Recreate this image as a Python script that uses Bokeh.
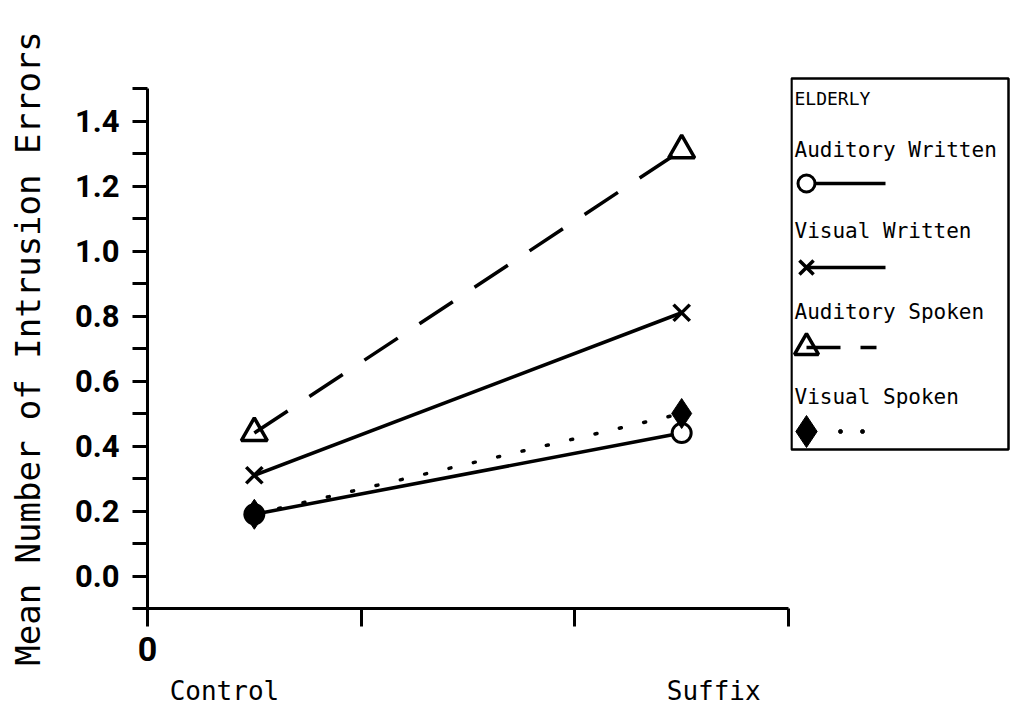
from bokeh.plotting import figure
from bokeh.layouts import row
from bokeh.models import Range1d, FixedTicker, LinearAxis
from bokeh.embed import file_html
from bokeh.resources import INLINE
from bokeh.core.properties import value

# ---- data ----
categories = ["Control", "Suffix"]
cat_x = [0.5, 2.5]
aud_written = [0.19, 0.44]
vis_written = [0.31, 0.81]
aud_spoken = [0.44, 1.31]
vis_spoken = [0.19, 0.50]
y_ticks = [0.0, 0.2, 0.4, 0.6, 0.8, 1.0, 1.2, 1.4]
y_tick_labels = ["0.0", "0.2", "0.4", "0.6", "0.8", "1.0", "1.2", "1.4"]
legend_title = "ELDERLY"
series_names = ["Auditory Written", "Visual Written", "Auditory Spoken", "Visual Spoken"]

# label placement (layout, not data)
cat_label_x = [0.36, 2.65]

NUMF = "Roboto"
MONO = "DejaVu Sans Mono"

p = figure(width=790, height=720, output_backend="svg", toolbar_location=None,
           x_range=Range1d(0, 3), y_range=Range1d(-0.1, 1.5),
           min_border_left=147, min_border_right=2, min_border_top=88, min_border_bottom=112,
           x_axis_type=None, y_axis_type=None)
p.grid.visible = False
p.outline_line_color = None
p.background_fill_color = "white"
p.border_fill_color = "white"

# y axis
yax = LinearAxis(ticker=FixedTicker(ticks=y_ticks,
                                    minor_ticks=[-0.1, 0.1, 0.3, 0.5, 0.7, 0.9, 1.1, 1.3, 1.5]),
                 major_label_overrides={t: l for t, l in zip(y_ticks, y_tick_labels)})
yax.axis_line_width = 3
yax.major_tick_line_width = 3
yax.minor_tick_line_width = 3
yax.major_tick_in = 0
yax.major_tick_out = 15
yax.minor_tick_in = 0
yax.minor_tick_out = 15
yax.major_label_text_font = NUMF
yax.major_label_text_font_style = "bold"
yax.major_label_text_color = "black"
yax.major_label_text_font_size = "31px"
yax.major_label_standoff = 13
yax.axis_label = "Mean Number of Intrusion Errors"
yax.axis_label_text_font = MONO
yax.axis_label_text_font_size = "34px"
yax.axis_label_text_font_style = "normal"
yax.axis_label_text_color = "black"
yax.axis_label_standoff = 24
p.add_layout(yax, "left")

# x axis
xax = LinearAxis(ticker=FixedTicker(ticks=[0, 1, 2, 3], minor_ticks=[]),
                 major_label_overrides={0: "0", 1: "", 2: "", 3: ""})
xax.axis_line_width = 3
xax.major_tick_line_width = 3
xax.major_tick_in = 0
xax.major_tick_out = 18
xax.major_label_text_font = NUMF
xax.major_label_text_font_style = "bold"
xax.major_label_text_color = "black"
xax.major_label_text_font_size = "34px"
xax.major_label_standoff = 10
p.add_layout(xax, "below")

# category axis
cax = LinearAxis(ticker=FixedTicker(ticks=cat_label_x, minor_ticks=[]),
                 major_label_overrides={x: c for x, c in zip(cat_label_x, categories)})
cax.axis_line_color = None
cax.major_tick_line_color = None
cax.major_tick_out = 0
cax.major_tick_in = 0
cax.major_label_text_font = MONO
cax.major_label_text_color = "black"
cax.major_label_text_font_size = "26px"
cax.major_label_standoff = 12
p.add_layout(cax, "below")

LW = 3.5
# series
p.line(cat_x, aud_written, line_color="black", line_width=LW)
p.scatter(cat_x, aud_written, marker="circle", size=19, fill_color="white", line_color="black", line_width=3)
p.line(cat_x, vis_spoken, line_color="black", line_width=LW, line_dash="2 23", line_cap="round")
p.scatter(cat_x, vis_spoken, marker="diamond", size=30, fill_color="black", line_color="black")
p.line(cat_x, vis_written, line_color="black", line_width=LW)
p.scatter(cat_x, vis_written, marker="x", size=23, line_color="black", line_width=3.5)
p.line(cat_x, aud_spoken, line_color="black", line_width=LW, line_dash="40 26")
p.scatter(cat_x, aud_spoken, marker="triangle", size=26, fill_color=None, line_color="black", line_width=3.5)

# ---- legend panel ----
lg = figure(width=224, height=720, output_backend="svg", toolbar_location=None,
            x_range=Range1d(0, 224), y_range=Range1d(720, 0),
            min_border=0, x_axis_type=None, y_axis_type=None)
if "frame_align" in lg.properties():
    lg.frame_align = False
lg.grid.visible = False
lg.outline_line_color = None
lg.border_fill_color = "white"

lg.quad(left=[1], right=[218], top=[78], bottom=[449], fill_color=None, line_color="black", line_width=2.5)

text_kw = dict(text_font=value(MONO), text_font_size="21px", text_baseline="middle",
               text_align="left", text_color="black")
lg.text([4], [98], text=[legend_title], **dict(text_kw, text_font_size="18px"))
label_y = [149, 230, 311, 396]
sym_y = [183, 267, 347, 431]
lg.text([4] * 4, label_y, text=series_names, **text_kw)

sx = 16
# Auditory Written
lg.line([sx, 95], [sym_y[0]] * 2, line_color="black", line_width=LW)
lg.scatter([sx], [sym_y[0]], marker="circle", size=17, fill_color="white", line_color="black", line_width=3)
# Visual Written
lg.line([sx, 95], [sym_y[1]] * 2, line_color="black", line_width=LW)
lg.scatter([sx], [sym_y[1]], marker="x", size=20, line_color="black", line_width=3.5)
# Auditory Spoken
lg.line([sx, 50], [sym_y[2]] * 2, line_color="black", line_width=LW)
lg.line([70, 86], [sym_y[2]] * 2, line_color="black", line_width=LW)
lg.scatter([sx], [sym_y[2]], marker="triangle", size=24, fill_color=None, line_color="black", line_width=3.5)
# Visual Spoken
lg.scatter([sx], [sym_y[3]], marker="diamond", size=32, fill_color="black", line_color="black")
lg.scatter([50, 72], [sym_y[3]] * 2, marker="circle", size=4, fill_color="black", line_color="black")

layout = row(p, lg)
open("out.html", "w").write(file_html(layout, INLINE))
